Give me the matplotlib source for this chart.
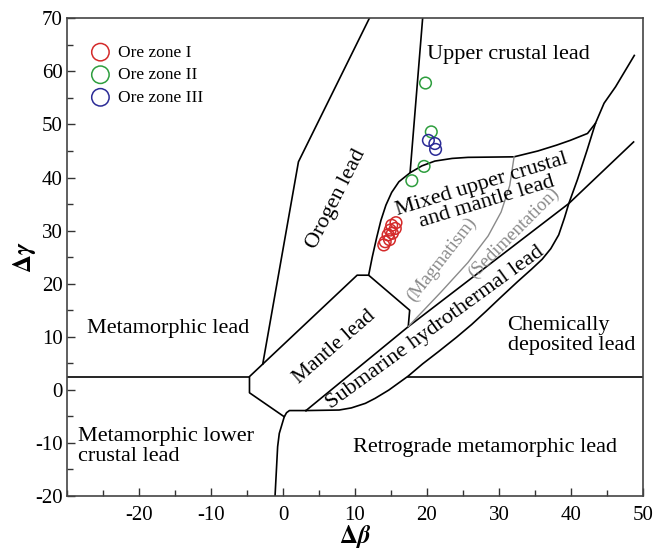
import numpy as np
import matplotlib.pyplot as plt
from matplotlib.ticker import MultipleLocator

plt.rcParams['font.family'] = ['Liberation Serif', 'DejaVu Serif']
plt.rcParams['mathtext.fontset'] = 'stix'
plt.rcParams['axes.unicode_minus'] = False

# ---- sample data (delta beta, delta gamma) ----
zone1_x = [15.7, 15.1, 15.6, 14.9, 15.2, 14.6, 14.8, 14.2, 14.0]
zone1_y = [31.5, 31.0, 30.4, 30.1, 29.5, 29.2, 28.3, 27.9, 27.3]
zone2_x = [19.8, 20.6, 19.6, 17.9]
zone2_y = [57.8, 48.6, 42.1, 39.4]
zone3_x = [20.2, 21.1, 21.2]
zone3_y = [47.0, 46.4, 45.3]

# ---- field boundaries of the diagram ----
left_hline_x = [-30, -4.65]
left_hline_y = [2.5, 2.5]
right_hline_x = [17.4, 50]
right_hline_y = [2.5, 2.5]
mantle_x = [3.2, 0.9, 0.5, 0.18, -4.65, -4.65, 10.3, 11.9, 17.6, 17.4]
mantle_y = [-3.9, -3.9, -4.3, -5.07, -0.55, 2.5, 21.6, 21.6, 15.0, 11.9]
bottom_x = [0.18, -0.51, -0.74, -1.1]
bottom_y = [-5.07, -8.2, -10.7, -20]
orogen_x = [-2.81, 2.15, 12.0]
orogen_y = [4.85, 42.96, 70]
upper_x = [19.4, 17.66]
upper_y = [70, 41.0]
mixed_x = [11.9, 12.4, 13.0, 13.6, 14.3, 15.1, 16.1, 17.66, 19.3, 21.1, 23.5, 25.7, 32.1,
           35.4, 38.0, 39.9, 42.3, 43.4]
mixed_y = [21.6, 25.0, 28.6, 31.9, 34.8, 37.2, 39.2, 40.9, 42.2, 43.1, 43.6, 43.8, 43.9,
           45.0, 46.1, 47.0, 48.3, 50.2]
lineA_x = [48.8, 46.2, 44.6, 43.4, 42.25, 40.9, 39.7, 39.1, 38.3, 37.2, 36.0, 34.5, 32.6,
           30.3, 28.2, 26.2, 24.1, 21.6, 19.4, 17.4, 14.7, 12.8, 11.45, 9.5, 7.8, 3.2]
lineA_y = [63.0, 57.1, 54.0, 50.2, 45.2, 39.6, 35.1, 32.4, 29.2, 26.6, 24.6, 22.7, 20.4,
           17.5, 14.8, 12.3, 9.9, 7.2, 4.9, 2.6, -0.04, -1.6, -2.54, -3.4, -3.8, -3.9]
lineB_x = [3.2, 17.4, 39.7, 48.7]
lineB_y = [-3.9, 11.9, 35.1, 46.7]
magma_x = [17.4, 18.5, 22.0, 25.7, 28.5, 30.3, 31.5, 32.1]
magma_y = [11.9, 13.5, 18.5, 24.0, 29.0, 33.5, 38.5, 43.9]

fig = plt.figure(figsize=(6.54, 5.49), dpi=100)
ax = fig.add_axes([0.1024, 0.0965, 0.8807, 0.8702])

lk = dict(color='black', lw=1.2, zorder=2)
ax.plot(left_hline_x, left_hline_y, **lk)
ax.plot(right_hline_x, right_hline_y, **lk)
ax.plot(mantle_x, mantle_y, **lk)
ax.plot(bottom_x, bottom_y, **lk)
ax.plot(orogen_x, orogen_y, **lk)
ax.plot(upper_x, upper_y, **lk)
ax.plot(mixed_x, mixed_y, **lk)
ax.plot(lineA_x, lineA_y, **lk)
ax.plot(lineB_x, lineB_y, **lk)
ax.plot(magma_x, magma_y, color='#8a8a8a', lw=1.0, zorder=2)

ax.scatter(zone1_x, zone1_y, s=70, facecolors='none', edgecolors='#d42a2a', lw=1.1, label='Ore zone I', zorder=3)
ax.scatter(zone2_x, zone2_y, s=70, facecolors='none', edgecolors='#2e9e3e', lw=1.1, label='Ore zone II', zorder=3)
ax.scatter(zone3_x, zone3_y, s=70, facecolors='none', edgecolors='#2b2b96', lw=1.1, label='Ore zone III', zorder=3)

fs = 16
gray = '#8a8a8a'
ax.text(31.35, 63.2, 'Upper crustal lead', fontsize=fs, ha='center', va='center')
ax.text(7.4, 36.0, 'Orogen lead', fontsize=fs, ha='center', va='center', rotation=63)
ax.text(28.0, 37.0, 'Mixed upper crustal\nand mantle lead', fontsize=fs, ha='center', va='center',
        rotation=17, linespacing=0.95)
ax.text(22.0, 24.6, '(Magmatism)', fontsize=13.5, color=gray, ha='center', va='center', rotation=52)
ax.text(32.1, 29.5, '(Sedimentation)', fontsize=13.5, color=gray, ha='center', va='center', rotation=45)
ax.text(21.1, 11.7, 'Submarine hydrothermal lead', fontsize=fs, ha='center', va='center', rotation=36)
ax.text(7.1, 8.1, 'Mantle lead', fontsize=15.5, ha='center', va='center', rotation=41)
ax.text(-16.0, 11.6, 'Metamorphic lead', fontsize=fs, ha='center', va='center')
ax.text(-28.4, -10.7, 'Metamorphic lower\ncrustal lead', fontsize=fs, ha='left', va='center', linespacing=1.05)
ax.text(28.1, -10.8, 'Retrograde metamorphic lead', fontsize=fs, ha='center', va='center')
ax.text(31.2, 10.3, 'Chemically\ndeposited lead', fontsize=fs, ha='left', va='center', linespacing=1.05)

ax.set_xlim(-30, 50)
ax.set_ylim(-20, 70)
ax.set_xticks(np.arange(-20, 51, 10))
ax.set_yticks(np.arange(-20, 71, 10))
ax.xaxis.set_minor_locator(MultipleLocator(5))
ax.yaxis.set_minor_locator(MultipleLocator(5))
ax.tick_params(which='major', direction='in', length=6, width=1, labelsize=15, color='#333333')
ax.tick_params(which='minor', direction='in', length=4, width=1, color='#333333')
ax.tick_params(axis='x', which='major', pad=7)
ax.tick_params(axis='y', which='major', pad=3)
for sp in ax.spines.values():
    sp.set_linewidth(1.2)
    sp.set_color('#444444')

ax.set_xlabel(r'$\mathbf{\Delta}\boldsymbol{\beta}$', fontsize=18, labelpad=-1)
ax.set_ylabel(r'$\mathbf{\Delta}\boldsymbol{\gamma}$', fontsize=18, labelpad=-2)

ax.legend(loc='upper left', bbox_to_anchor=(0.043, 0.945), frameon=False, fontsize=12.5,
          markerscale=1.5, handletextpad=0.5, labelspacing=0.37, borderpad=0.0,
          handlelength=1.0, borderaxespad=0.0)

fig.savefig('out.png', dpi=100)
